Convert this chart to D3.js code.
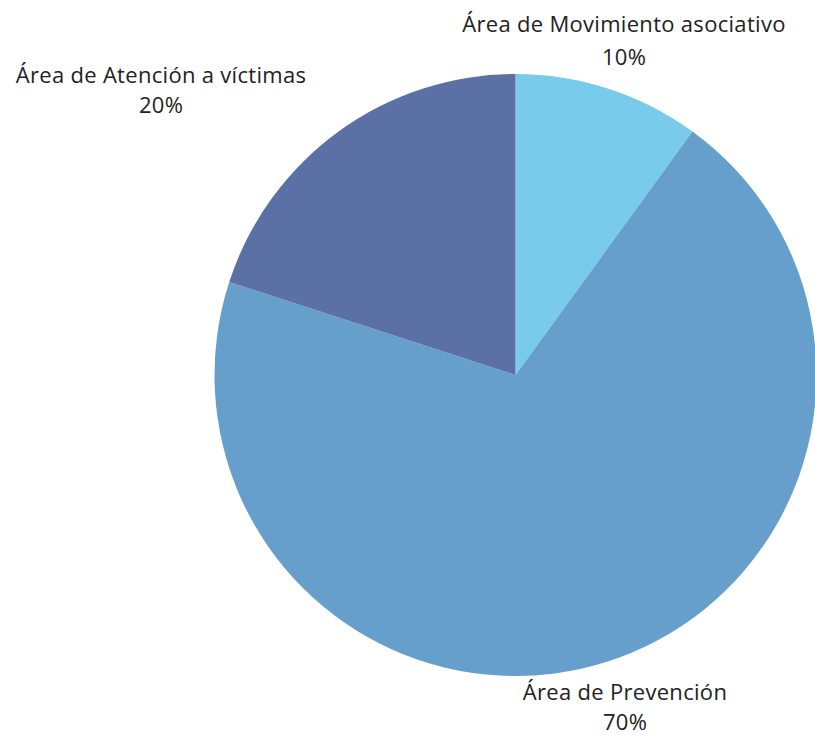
<!DOCTYPE html>
<html><head><meta charset="utf-8">
<script src="https://cdn.jsdelivr.net/npm/d3@7"></script>
<style>body{margin:0;background:#fff;overflow:hidden}</style>
</head><body>
<svg id="c" width="815" height="735"></svg>
<script>
const categories = ["Área de Movimiento asociativo", "Área de Prevención", "Área de Atención a víctimas"];
const values = [10, 70, 20];
const percentLabels = ["10%", "70%", "20%"];
const colors = ["#79CBEC", "#679FCC", "#5B71A5"];

const svg = d3.select("#c");
const cx = 515.5, cy = 375, r = 301;
const pie = d3.pie().sort(null)(values);
const arc = d3.arc().innerRadius(0).outerRadius(r);
const g = svg.append("g").attr("transform", `translate(${cx},${cy})`);
g.selectAll("path").data(pie).join("path")
  .attr("d", arc).attr("fill", (d,i)=>colors[i]);

const labelPos = [[624, 32, 65], [625, 700, 730], [161, 83, 113]];
const font = "'Open Sans', 'Noto Sans', sans-serif";
categories.forEach((c,i)=>{
  const [x,y1,y2] = labelPos[i];
  svg.append("text").attr("x",x).attr("y",y1).attr("text-anchor","middle")
    .attr("font-family",font).attr("font-size",22).attr("letter-spacing",0.3)
    .attr("fill","#222").text(c);
  svg.append("text").attr("x",x).attr("y",y2).attr("text-anchor","middle")
    .attr("font-family",font).attr("font-size",22).attr("letter-spacing",0.3)
    .attr("fill","#222").text(percentLabels[i]);
});
</script>
</body></html>
